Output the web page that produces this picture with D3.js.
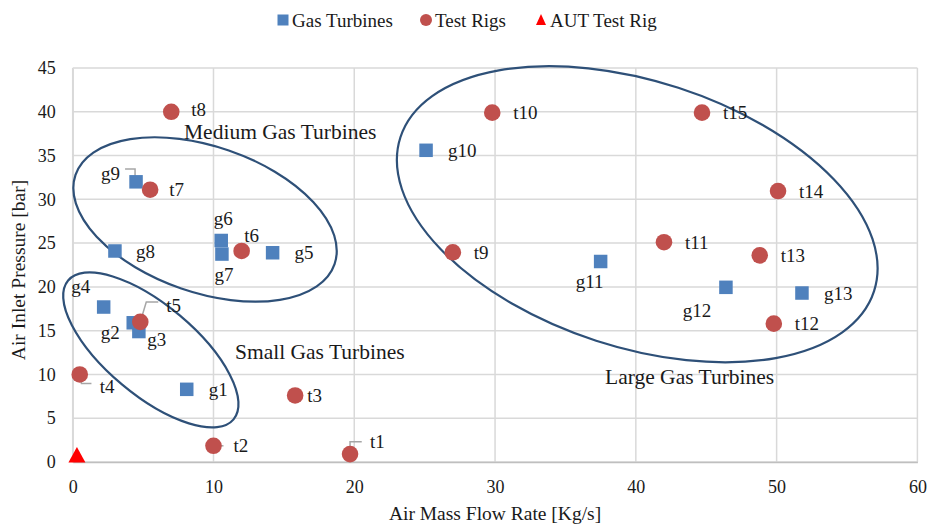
<!DOCTYPE html>
<html>
<head>
<meta charset="utf-8">
<script src="https://cdn.jsdelivr.net/npm/d3@7"></script>
<style>
  html, body { margin: 0; padding: 0; background: #fff; }
  svg { display: block; }
  svg text { font-family: "Liberation Serif", "DejaVu Serif", serif !important; fill: #1a1a1a; }
</style>
</head>
<body>
<svg id="chart" width="929" height="526"></svg>
<script>
// ---------------- DATA ----------------
const xTicks = [0, 10, 20, 30, 40, 50, 60];
const yTicks = [0, 5, 10, 15, 20, 25, 30, 35, 40, 45];

const gasTurbineNames = ["g1","g2","g3","g4","g5","g6","g7","g8","g9","g10","g11","g12","g13"];
const gasTurbineFlow  = [8.1, 4.3, 4.7, 2.2, 14.2, 10.55, 10.6, 3.0, 4.5, 25.1, 37.5, 46.4, 51.8];
const gasTurbinePress = [8.3, 15.9, 14.9, 17.7, 23.9, 25.3, 23.75, 24.1, 32.0, 35.6, 22.9, 19.95, 19.3];

const testRigNames = ["t1","t2","t3","t4","t5","t6","t7","t8","t9","t10","t11","t12","t13","t14","t15"];
const testRigFlow  = [19.7, 10.0, 15.8, 0.5, 4.8, 12.0, 5.5, 7.0, 27.0, 29.8, 42.0, 49.8, 48.8, 50.1, 44.7];
const testRigPress = [0.9, 1.85, 7.6, 10.0, 16.0, 24.1, 31.1, 40.0, 23.95, 39.9, 25.1, 15.8, 23.6, 30.95, 39.9];

const autFlow  = [0.3];
const autPress = [0.8];

const seriesNames = ["Gas Turbines", "Test Rigs", "AUT Test Rig"];
const regionNames = ["Medium Gas Turbines", "Small Gas Turbines", "Large Gas Turbines"];
const xTitle = "Air Mass Flow Rate [Kg/s]";
const yTitle = "Air Inlet Pressure [bar]";

// ---------------- LAYOUT / STYLE ----------------
const plot = { left: 72.7, right: 917.4, top: 68, bottom: 462 };
const colors = { gas: "#4f81bd", rig: "#c0504d", aut: "#ff0000", grid: "#d9d9d9", ellipse: "#2e5078", leader: "#a6a6a6" };
const FONT = "Liberation Serif, DejaVu Serif, serif";

// label placement relative to marker (px)
const labelLayout = {
  g1: {dx: 22, dy: 0, a: "start"},
  g2: {dx: -23, dy: 10, a: "middle"},
  g3: {dx: 18, dy: 8, a: "middle"},
  g4: {dx: -23, dy: -21, a: "middle"},
  g5: {dx: 22, dy: 0, a: "start"},
  g6: {dx: 2, dy: -22, a: "middle"},
  g7: {dx: 2, dy: 20, a: "middle"},
  g8: {dx: 21, dy: 0, a: "start"},
  g9: {dx: -16, dy: -8, a: "end", leader: [[-11, -12.7], [-1, -12.7], [-1, -5]]},
  g10: {dx: 22, dy: 0, a: "start"},
  g11: {dx: -11, dy: 20, a: "middle"},
  g12: {dx: -29, dy: 23, a: "middle"},
  g13: {dx: 22, dy: 0, a: "start"},
  t1: {dx: 20, dy: -12.3, a: "start", leader: [[0, 0], [0, -12.3], [11.7, -12.3]]},
  t2: {dx: 20, dy: 0, a: "start", leader: [[3, 0], [10, 0]]},
  t3: {dx: 12, dy: 0, a: "start"},
  t4: {dx: 20, dy: 12.4, a: "start", leader: [[0, 0], [1.7, 9], [11.7, 9]]},
  t5: {dx: 26, dy: -17, a: "start", leader: [[0, 0], [6, -20], [18, -20]]},
  t6: {dx: 10, dy: -16, a: "middle"},
  t7: {dx: 19, dy: 0, a: "start"},
  t8: {dx: 20, dy: -2, a: "start"},
  t9: {dx: 21, dy: 0, a: "start"},
  t10: {dx: 21, dy: 0, a: "start"},
  t11: {dx: 21, dy: 0, a: "start"},
  t12: {dx: 21, dy: 0, a: "start"},
  t13: {dx: 21, dy: 0, a: "start"},
  t14: {dx: 21, dy: 0, a: "start"},
  t15: {dx: 21, dy: 0, a: "start"}
};

const svg = d3.select("#chart").attr("font-family", FONT);

const x = d3.scaleLinear().domain([0, 60]).range([plot.left, plot.right]);
const y = d3.scaleLinear().domain([0, 45]).range([plot.bottom, plot.top]);

// gridlines
svg.append("g").selectAll("line").data(xTicks).join("line")
  .attr("x1", d => x(d)).attr("x2", d => x(d))
  .attr("y1", plot.top).attr("y2", plot.bottom)
  .attr("stroke", colors.grid).attr("stroke-width", 1.5);
svg.append("g").selectAll("line").data(yTicks).join("line")
  .attr("x1", plot.left).attr("x2", plot.right)
  .attr("y1", d => y(d)).attr("y2", d => y(d))
  .attr("stroke", colors.grid).attr("stroke-width", 1.5);

// axes (labels only, Excel style)
const xAxis = d3.axisBottom(x).tickValues(xTicks).tickSize(0).tickPadding(18);
const gx = svg.append("g").attr("transform", `translate(0,${plot.bottom})`).call(xAxis);
gx.attr("font-family", FONT).attr("font-size", 18);
gx.select(".domain").attr("stroke", "#bfbfbf").attr("stroke-width", 1.5);
gx.selectAll("text").attr("fill", "#1a1a1a");

const yAxis = d3.axisLeft(y).tickValues(yTicks).tickSize(0).tickPadding(17);
const gy = svg.append("g").attr("transform", `translate(${plot.left},0)`).call(yAxis);
gy.attr("font-family", FONT).attr("font-size", 18);
gy.select(".domain").attr("stroke", colors.grid).attr("stroke-width", 1.5);
gy.selectAll("text").attr("fill", "#1a1a1a");

// region ellipses: centre in data units, radii/rotation in px
const ellipses = [
  {cx: x(9.4), cy: y(27.7), rx: 137, ry: 73, rot: 19},
  {cx: x(5.55), cy: y(12.8), rx: 108, ry: 45, rot: 40},
  {cx: x(40.1), cy: y(28.3), rx: 249, ry: 133, rot: 18}
];
svg.append("g").selectAll("ellipse").data(ellipses).join("ellipse")
  .attr("cx", 0).attr("cy", 0)
  .attr("rx", d => d.rx).attr("ry", d => d.ry)
  .attr("transform", d => `translate(${d.cx},${d.cy}) rotate(${d.rot})`)
  .attr("fill", "none").attr("stroke", colors.ellipse).attr("stroke-width", 2.2);

// region labels
const regionPos = [
  {x: 184, y: 131}, {x: 235, y: 351}, {x: 605, y: 376}
];
svg.append("g").selectAll("text").data(regionNames).join("text")
  .attr("x", (d, i) => regionPos[i].x).attr("y", (d, i) => regionPos[i].y)
  .attr("dy", "0.35em").attr("font-size", 21.5).text(d => d);

// data records
const gasData = gasTurbineNames.map((n, i) => ({name: n, fx: gasTurbineFlow[i], fy: gasTurbinePress[i]}));
const rigData = testRigNames.map((n, i) => ({name: n, fx: testRigFlow[i], fy: testRigPress[i]}));
const autData = autFlow.map((f, i) => ({fx: f, fy: autPress[i]}));

// leader lines
const leaderG = svg.append("g");
[...gasData, ...rigData].forEach(d => {
  const L = labelLayout[d.name];
  if (L && L.leader) {
    leaderG.append("polyline")
      .attr("points", L.leader.map(p => `${x(d.fx) + p[0]},${y(d.fy) + p[1]}`).join(" "))
      .attr("fill", "none").attr("stroke", colors.leader).attr("stroke-width", 1.5);
  }
});

// markers
const sq = 13.5;
svg.append("g").selectAll("rect").data(gasData).join("rect")
  .attr("x", d => x(d.fx) - sq / 2).attr("y", d => y(d.fy) - sq / 2)
  .attr("width", sq).attr("height", sq).attr("fill", colors.gas);
svg.append("g").selectAll("circle").data(rigData).join("circle")
  .attr("cx", d => x(d.fx)).attr("cy", d => y(d.fy)).attr("r", 8.3)
  .attr("fill", colors.rig);
svg.append("g").selectAll("path").data(autData).join("path")
  .attr("d", d => {
    const cx = x(d.fx), cy = y(d.fy);
    return `M${cx},${cy - 8}L${cx + 8.5},${cy + 7.5}L${cx - 8.5},${cy + 7.5}Z`;
  })
  .attr("fill", colors.aut);

// point labels
svg.append("g").selectAll("text").data([...gasData, ...rigData]).join("text")
  .attr("x", d => x(d.fx) + labelLayout[d.name].dx)
  .attr("y", d => y(d.fy) + labelLayout[d.name].dy)
  .attr("dy", "0.35em")
  .attr("text-anchor", d => labelLayout[d.name].a)
  .attr("font-size", 19)
  .text(d => d.name);

// axis titles
svg.append("text").attr("x", (plot.left + plot.right) / 2).attr("y", 513)
  .attr("dy", "0.35em").attr("text-anchor", "middle").attr("font-size", 19.5).text(xTitle);
svg.append("text").attr("transform", `translate(18,270) rotate(-90)`)
  .attr("dy", "0.35em").attr("text-anchor", "middle").attr("font-size", 19.5).text(yTitle);

// legend
const legend = svg.append("g");
const legItems = [
  {x: 283, type: "square", color: colors.gas},
  {x: 426, type: "circle", color: colors.rig},
  {x: 541, type: "triangle", color: colors.aut}
];
const ly = 20;
legItems.forEach((it, i) => {
  if (it.type === "square") legend.append("rect").attr("x", it.x - 5.5).attr("y", ly - 5.5).attr("width", 11).attr("height", 11).attr("fill", it.color);
  if (it.type === "circle") legend.append("circle").attr("cx", it.x).attr("cy", ly).attr("r", 6).attr("fill", it.color);
  if (it.type === "triangle") legend.append("path").attr("d", `M${it.x},${ly - 6}L${it.x + 5},${ly + 5}L${it.x - 5},${ly + 5}Z`).attr("fill", it.color);
  legend.append("text").attr("x", it.x + 9).attr("y", ly).attr("dy", "0.35em").attr("font-size", 19).text(seriesNames[i]);
});
</script>
</body>
</html>
